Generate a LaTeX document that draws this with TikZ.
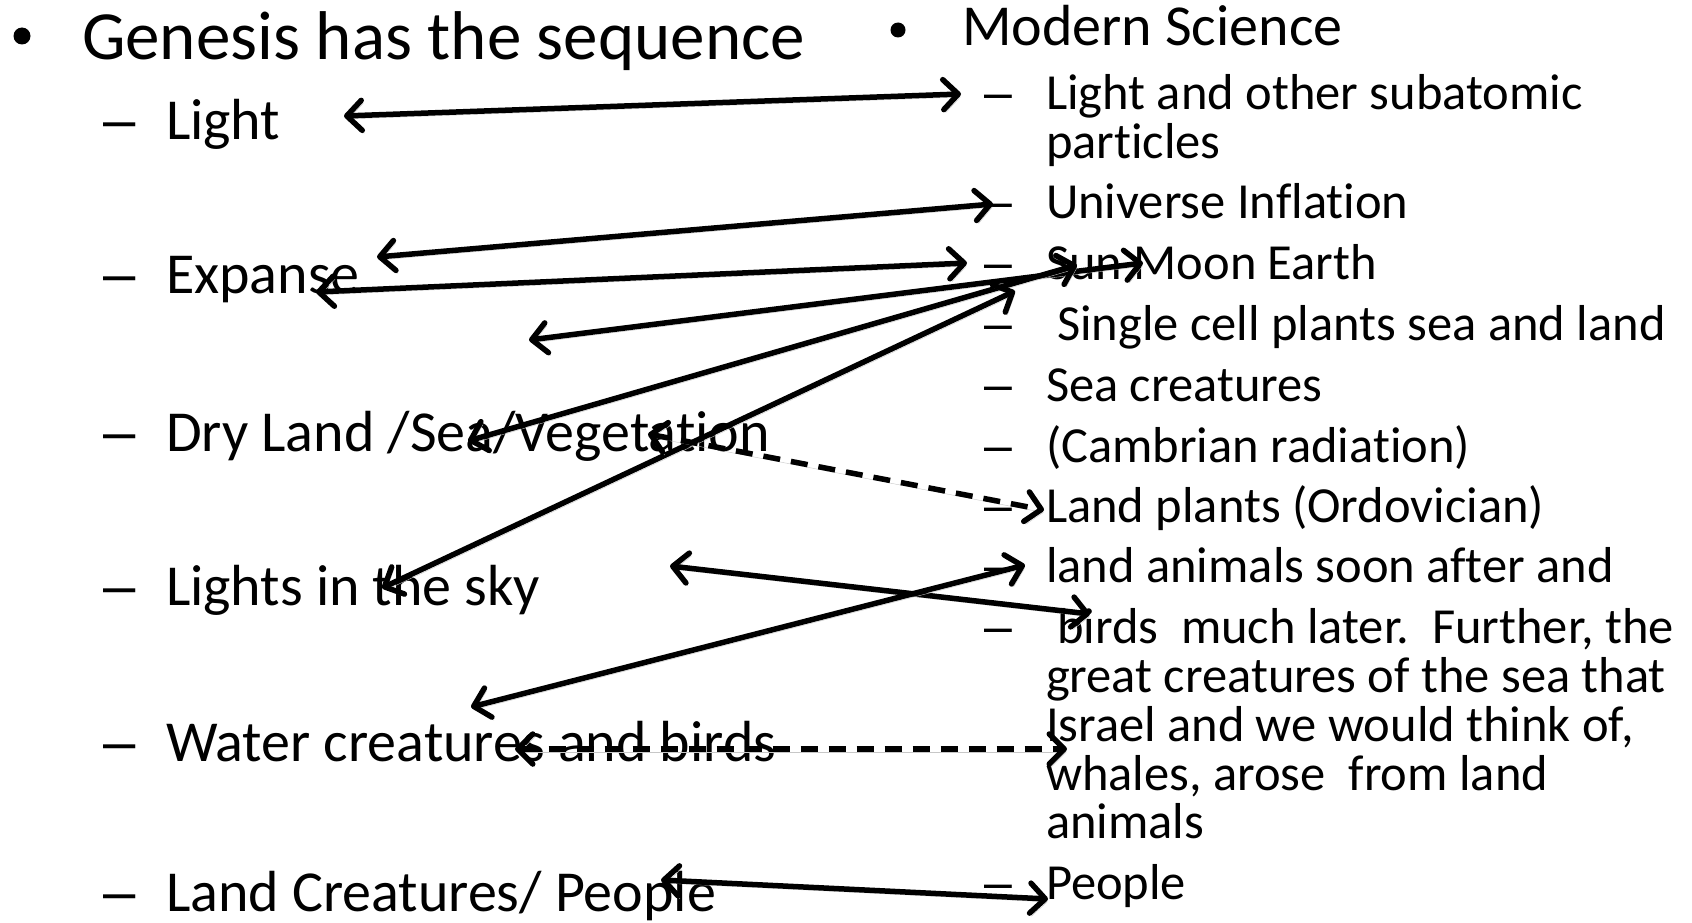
\documentclass[tikz,border=0pt]{standalone}
\usepackage{fontspec}
\setmainfont{Carlito}[Ligatures=NoCommon]
\newfontfamily\dashfont{Liberation Sans}
\usetikzlibrary{arrows.meta}
\begin{document}
\begin{tikzpicture}[x=1pt,y=-1pt,
  txt/.style={anchor=base west,inner sep=0pt,outer sep=0pt},
  head/.style={txt,font=\fontsize{69}{69}\selectfont},
  litem/.style={txt,font=\fontsize{58}{58}\selectfont},
  rhead/.style={txt,font=\fontsize{58}{58}\selectfont},
  ritem/.style={txt,font=\fontsize{50.5}{50.5}\selectfont},
  ldash/.style={txt,font=\dashfont\fontsize{58}{58}\selectfont},
  rdash/.style={txt,font=\dashfont\fontsize{50}{50}\selectfont},
  bul/.style={circle,fill=black,inner sep=0pt},
  tipx/.tip={Straight Barb[length=15pt,width=30pt,round]},
  link/.style={line width=5.5pt,tipx-tipx,
    preaction={draw=black!22,transform canvas={shift={(2pt,-3pt)}}}},
  dlink/.style={link,dash pattern=on 17pt off 11pt}
]
\useasboundingbox (0,0) rectangle (1692,923);

% ---------- left column ----------
\node[bul,minimum size=17pt] (lb) at (22,36) {};
\node[head] (lh) at (82,60) {Genesis has the sequence};
\foreach \y/\n/\t in {140/l1/{Light},293/l2/{Expanse},451/l3/{Dry Land /Sea/Vegetation},605/l4/{Lights in the sky},761/l5/{Water creatures and birds},911/l6/{Land Creatures/ People}}{
  \node[ldash] (\n d) at (103,\y) {–};
  \node[litem] (\n) at (166,\y) {\t};
}

% ---------- right column ----------
\node[bul,minimum size=15pt] (rb) at (898,30) {};
\node[rhead] (rh) at (962,46) {Modern Science};
\foreach \y/\n in {110/r1,218/r2,279/r3,340/r4,401/r5,462/r6,522/r7,582/r8,643/r9,899/r10}{
  \node[rdash] (\n d) at (984,\y) {–};
}
\node[ritem] (r1) at (1046,110) {Light and other subatomic};
\node[ritem] (r1b) at (1046,158) {particles};
\node[ritem] (r2) at (1046,218) {Universe Inflation};
\node[ritem] (r3) at (1046,279) {Sun Moon Earth};
\node[ritem] (r4) at (1057,340) {Single cell plants sea and land};
\node[ritem] (r5) at (1046,401) {Sea creatures};
\node[ritem] (r6) at (1046,462) {(Cambrian radiation)};
\node[ritem] (r7) at (1046,522) {Land plants (Ordovician)};
\node[ritem] (r8) at (1046,582) {land animals soon after and};
\node[ritem] (r9) at (1057,643) {birds\ \ much later.\ \ Further, the};
\node[ritem] (r9b) at (1046,692) {great creatures of the sea that};
\node[ritem] (r9c) at (1046,741) {Israel and we would think of,};
\node[ritem] (r9d) at (1046,790) {whales, arose\ \ from land};
\node[ritem] (r9e) at (1046,838) {animals};
\node[ritem] (r10) at (1046,899) {People};

% ---------- arrow end points ----------
\coordinate (a1l) at (344,116);  \coordinate (a1r) at (961,94);
\coordinate (a2l) at (377,257);  \coordinate (a2r) at (993,204);
\coordinate (a3l) at (316,292);  \coordinate (a3r) at (967,263);
\coordinate (a4l) at (529,340);  \coordinate (a4r) at (1143,263);
\coordinate (a5l) at (468,441);  \coordinate (a5r) at (1077,265);
\coordinate (a6l) at (382,588);  \coordinate (a6r) at (1015,291);
\coordinate (a7l) at (670,566);  \coordinate (a7r) at (1090,614);
\coordinate (a8l) at (471,707);  \coordinate (a8r) at (1025,565);
\coordinate (a9l) at (515,749);  \coordinate (a9r) at (1067,749);
\coordinate (a10l) at (661,880); \coordinate (a10r) at (1048,899);
\coordinate (a11l) at (648,434); \coordinate (a11r) at (1044,510);

% ---------- connectors ----------
\draw[link] (a1l) -- (a1r);
\draw[link] (a2l) -- (a2r);
\draw[link] (a3l) -- (a3r);
\draw[link] (a4l) -- (a4r);
\draw[link] (a5l) -- (a5r);
\draw[link] (a6l) -- (a6r);
\draw[link] (a7l) -- (a7r);
\draw[link] (a8l) -- (a8r);
\draw[dlink] (a9l) -- (a9r);
\draw[link] (a10l) -- (a10r);
\draw[dlink] (a11l) -- (a11r);
\end{tikzpicture}
\end{document}
